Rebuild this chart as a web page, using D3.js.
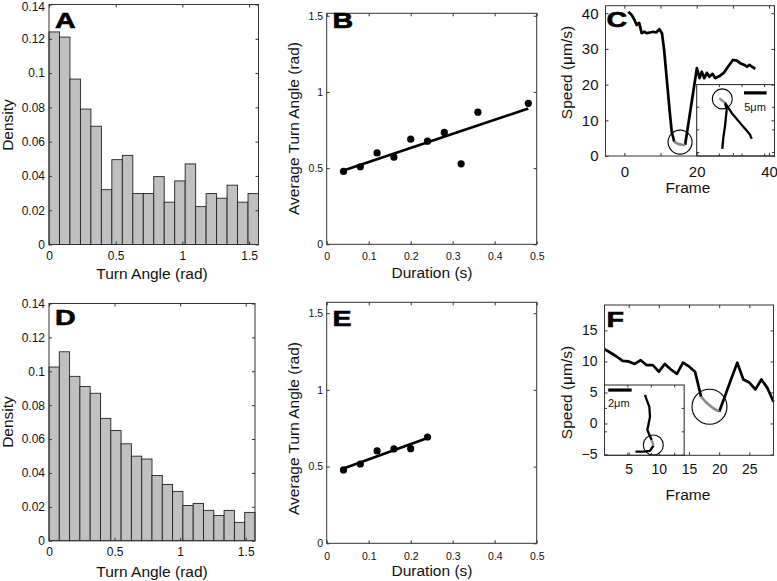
<!DOCTYPE html>
<html>
<head>
<meta charset="utf-8">
<script src="https://cdn.jsdelivr.net/npm/d3@7"></script>
<style>
  body { margin: 0; background: #fff; }
  svg { display: block; }
  text { font-family: "Liberation Sans", Arial, sans-serif; }
</style>
</head>
<body>
<div id="chart"></div>
<script>
// ---- data ----
// histograms: 20 bins over [0, pi/2]
var densityA = [0.124, 0.121, 0.0965, 0.079, 0.069, 0.032, 0.0495, 0.052, 0.0297, 0.0297,
                0.0396, 0.0247, 0.0371, 0.047, 0.0221, 0.0297, 0.027, 0.0346, 0.0247, 0.0297];
var densityD = [0.1025, 0.1115, 0.097, 0.091, 0.087, 0.0722, 0.065, 0.0572, 0.0499, 0.0482,
                0.0385, 0.0332, 0.0291, 0.0208, 0.022, 0.0179, 0.0149, 0.0179, 0.0108, 0.0167];

// average turn angle vs duration
var durationB = [0.04, 0.08, 0.12, 0.16, 0.20, 0.24, 0.28, 0.32, 0.36, 0.48];
var angleB    = [0.478, 0.509, 0.600, 0.572, 0.690, 0.677, 0.734, 0.528, 0.867, 0.925];
var durationE = [0.04, 0.08, 0.12, 0.16, 0.20, 0.24];
var angleE    = [0.478, 0.517, 0.602, 0.615, 0.617, 0.693];

// speed traces
var frameC = [1.1, 2.05, 2.8, 3.4, 4.1, 4.8, 5.5, 6.2, 7.1, 8.0, 8.8, 9.7, 10.4, 11.0, 11.75, 12.5, 13.1,
              13.8, 14.8, 15.8, 16.8,
              20.05, 20.8, 21.4, 22.1, 22.8, 23.5, 24.4, 25.1, 26.3, 27.4, 28.8, 30.0, 31.1, 32.0,
              33.2, 33.9, 34.6, 35.3, 36.2];
var speedC = [40.4, 39.5, 38.1, 36.7, 37.3, 34.4, 34.8, 34.4, 34.6, 34.8, 34.6, 35.5, 34.4, 29.7, 21.3, 12.9, 6.8,
              4.0, 3.4, 3.2, 3.1,
              24.6, 21.8, 23.6, 21.8, 23.3, 22.2, 23.0, 21.8, 22.4, 23.2, 25.2, 26.9, 26.7, 26.0,
              25.5, 25.0, 25.5, 25.0, 24.4];
var slowC = [17, 20];          // first/last index of the grey (slow) stretch
var circleC = [15.4, 3.9];     // frame, speed

var frameF = d3.range(1, 30);
var speedF = [12.0, 11.4, 10.8, 10.1, 10.0, 9.6, 10.2, 9.4, 9.4, 8.35, 9.6, 8.7, 8.0, 9.8, 9.2,
              8.35, 4.3, 3.25, 2.45, 1.9, 4.5, 7.2, 9.8, 7.1, 6.6, 5.5, 7.1, 5.7, 3.5];
var slowF = [16, 19];
var circleF = [18.4, 2.7];

// trajectories in the insets (um, from inset top-left, y down)
var trajCx = [5.65, 5.87, 6.25, 6.62, 6.25, 5.14, 6.25, 7.73, 9.56, 11.77, 12.14];
var trajCy = [14.19, 11.77, 9.21, 5.52, 3.97, 3.16, 4.04, 6.25, 8.45, 11.04, 11.99];
var trajCslow = [4, 6];
var trajCcircle = [5.65, 3.16];
var trajFx = [3.46, 3.61, 3.83, 3.89, 3.66, 4.03, 4.19, 3.89, 3.32, 2.65];
var trajFy = [0.85, 1.28, 1.85, 2.71, 3.85, 4.70, 5.17, 5.62, 5.70, 5.70];
var trajFslow = [5, 6];
var trajFcircle = [4.17, 5.13];

// ticks
var angleTicks = [0, 0.5, 1, 1.5];
var densityTicks = [0, 0.02, 0.04, 0.06, 0.08, 0.1, 0.12, 0.14];
var durationTicks = [0, 0.1, 0.2, 0.3, 0.4, 0.5];
var avgTicks = [0, 0.5, 1, 1.5];
var frameTicksC = [0, 10, 20, 30, 40];
var speedTicksC = [0, 10, 20, 30, 40];
var frameTicksF = [5, 10, 15, 20, 25];
var speedTicksF = [-5, 0, 5, 10, 15];

// ---- drawing ----
var FONT = '"Liberation Sans", Arial, sans-serif';
var svg = d3.select('#chart').append('svg')
    .attr('width', 777)
    .attr('height', 581);

var fmt = function (d) { return String(+d.toFixed(3)).replace('-', '\u2212'); };

function axes(x, y, o) {
    var xr = x.range(), yr = y.range();
    var g = svg.append('g').attr('font-family', FONT).attr('font-size', o.fs);
    g.append('g').attr('transform', 'translate(0,' + yr[0] + ')')
        .call(d3.axisBottom(x).tickValues(o.xt).tickSize(-3).tickSizeOuter(0)
            .tickPadding(o.xpad).tickFormat(o.xfmt || fmt));
    g.append('g').attr('transform', 'translate(0,' + yr[1] + ')')
        .call(d3.axisTop(x).tickValues(o.xt).tickSize(-3).tickSizeOuter(0).tickFormat(''));
    var left = g.append('g').attr('transform', 'translate(' + xr[0] + ',0)')
        .call(d3.axisLeft(y).tickValues(o.yt).tickSize(-3).tickSizeOuter(0)
            .tickPadding(o.ypad).tickFormat(fmt));
    g.append('g').attr('transform', 'translate(' + xr[1] + ',0)')
        .call(d3.axisRight(y).tickValues(o.yt).tickSize(-3).tickSizeOuter(0).tickFormat(''));
    g.selectAll('.domain').remove();
    g.selectAll('.tick line').attr('stroke', '#333');
    g.selectAll('.tick text').attr('fill', '#111').attr('font-size', o.fs);
    g.selectAll('g').attr('font-size', null).attr('font-family', null);
    // keep a label that sits right at the page top inside the picture
    left.selectAll('.tick text').filter(function (d) { return y(d) < 7; }).attr('y', 2);
    g.append('rect')
        .attr('x', xr[0]).attr('y', yr[1])
        .attr('width', xr[1] - xr[0]).attr('height', yr[0] - yr[1])
        .attr('fill', 'none').attr('stroke', '#333');
}

function label(txt, x, y, rot) {
    svg.append('text')
        .attr('transform', 'translate(' + x + ',' + y + ')' + (rot ? ' rotate(-90)' : ''))
        .attr('text-anchor', 'middle')
        .attr('font-size', 15.5)
        .attr('fill', '#111')
        .text(txt);
}

// panel letters are set in a heavy, slightly wide face
function letter(txt, x, y) {
    svg.append('text')
        .attr('transform', 'translate(' + x + ',' + y + ') scale(1.3,1)')
        .attr('font-size', 22).attr('font-weight', 'bold').attr('fill', '#000')
        .attr('stroke', '#000').attr('stroke-width', 0.6)
        .text(txt);
}

function histogram(dens, x, y) {
    var bw = Math.PI / 2 / dens.length;
    svg.append('g').selectAll('rect')
        .data(dens)
        .enter()
        .append('rect')
        .attr('x', function (d, i) { return x(i * bw); })
        .attr('width', function (d, i) { return x((i + 1) * bw) - x(i * bw); })
        .attr('y', function (d) { return y(d); })
        .attr('height', function (d) { return y(0) - y(d); })
        .attr('fill', '#c0c0c0')
        .attr('stroke', '#222')
        .attr('stroke-width', 0.9);
}

function scatterFit(xs, ys, x, y) {
    var mx = d3.mean(xs), my = d3.mean(ys);
    var sxy = d3.sum(xs, function (v, i) { return (v - mx) * (ys[i] - my); });
    var sxx = d3.sum(xs, function (v) { return (v - mx) * (v - mx); });
    var b = sxy / sxx, a = my - b * mx;
    var ext = d3.extent(xs);
    svg.append('line')
        .attr('x1', x(ext[0])).attr('y1', y(a + b * ext[0]))
        .attr('x2', x(ext[1])).attr('y2', y(a + b * ext[1]))
        .attr('stroke', '#000').attr('stroke-width', 2.6);
    svg.append('g').selectAll('circle')
        .data(xs)
        .enter()
        .append('circle')
        .attr('cx', function (d) { return x(d); })
        .attr('cy', function (d, i) { return y(ys[i]); })
        .attr('r', 3.6)
        .attr('fill', '#000');
}

function trace(fr, sp, slow, x, y, w) {
    var pts = fr.map(function (f, i) { return [x(f), y(sp[i])]; });
    var line = d3.line();
    var g = svg.append('g').attr('fill', 'none').attr('stroke-width', w)
        .attr('stroke-linejoin', 'round');
    g.append('path').attr('d', line(pts.slice(0, slow[0] + 1))).attr('stroke', '#000');
    g.append('path').attr('d', line(pts.slice(slow[1]))).attr('stroke', '#000');
    g.append('path').attr('d', line(pts.slice(slow[0], slow[1] + 1))).attr('stroke', '#8a8a8a');
}

function ring(cx, cy, r) {
    svg.append('circle').attr('cx', cx).attr('cy', cy).attr('r', r)
        .attr('fill', 'none').attr('stroke', '#000').attr('stroke-width', 1.1);
}

function inset(box, pxPerUm, tickUm, tx, ty, slow, circ, bar, barLabel, labelPos) {
    var xs = d3.scaleLinear().domain([0, (box[2] - box[0]) / pxPerUm]).range([box[0], box[2]]);
    var ys = d3.scaleLinear().domain([0, (box[3] - box[1]) / pxPerUm]).range([box[1], box[3]]);
    svg.append('rect')
        .attr('x', box[0]).attr('y', box[1])
        .attr('width', box[2] - box[0]).attr('height', box[3] - box[1])
        .attr('fill', '#fff').attr('stroke', '#222');
    var g = svg.append('g').attr('stroke', '#333');
    d3.range(tickUm, xs.domain()[1], tickUm).forEach(function (v) {
        g.append('line').attr('x1', xs(v)).attr('x2', xs(v)).attr('y1', box[3]).attr('y2', box[3] - 2.5);
        g.append('line').attr('x1', xs(v)).attr('x2', xs(v)).attr('y1', box[1]).attr('y2', box[1] + 2.5);
    });
    d3.range(tickUm, ys.domain()[1], tickUm).forEach(function (v) {
        g.append('line').attr('y1', ys(v)).attr('y2', ys(v)).attr('x1', box[0]).attr('x2', box[0] + 2.5);
        g.append('line').attr('y1', ys(v)).attr('y2', ys(v)).attr('x1', box[2]).attr('x2', box[2] - 2.5);
    });
    trace(tx, ty, slow, xs, ys, 2.3);
    ring(xs(circ[0]), ys(circ[1]), 10);
    svg.append('line')
        .attr('x1', xs(bar[0])).attr('x2', xs(bar[0] + bar[2]))
        .attr('y1', ys(bar[1])).attr('y2', ys(bar[1]))
        .attr('stroke', '#000').attr('stroke-width', 3.2);
    svg.append('text')
        .attr('x', labelPos[0]).attr('y', labelPos[1])
        .attr('text-anchor', labelPos[2])
        .attr('font-size', 11).attr('fill', '#111')
        .text(barLabel);
}

// ---- A ----
var xA = d3.scaleLinear().domain([0, Math.PI / 2]).range([49, 258.5]);
var yA = d3.scaleLinear().domain([0, 0.14]).range([244.5, 4.5]);
histogram(densityA, xA, yA);
axes(xA, yA, { xt: angleTicks, yt: densityTicks, fs: 12, xpad: 6.5, ypad: 4 });
label('Turn Angle (rad)', 152, 278.5);
label('Density', 12.5, 125, true);
letter('A', 55, 28);

// ---- D ----
var xD = d3.scaleLinear().domain([0, Math.PI / 2]).range([49, 255]);
var yD = d3.scaleLinear().domain([0, 0.14]).range([540.7, 303.5]);
histogram(densityD, xD, yD);
axes(xD, yD, { xt: angleTicks, yt: densityTicks, fs: 12, xpad: 6.5, ypad: 4 });
label('Turn Angle (rad)', 152, 577);
label('Density', 12.5, 422, true);
letter('D', 55, 325);

// ---- B ----
var xB = d3.scaleLinear().domain([0, 0.5]).range([326.7, 536.7]);
var yB = d3.scaleLinear().domain([0, 1.516]).range([244.3, 13.3]);
axes(xB, yB, { xt: durationTicks, yt: avgTicks, fs: 10.5, xpad: 8.5, ypad: 3.5 });
scatterFit(durationB, angleB, xB, yB);
label('Duration (s)', 432, 278);
label('Average Turn Angle (rad)', 298.5, 128.5, true);
letter('B', 332.5, 27.5);

// ---- E ----
var xE = d3.scaleLinear().domain([0, 0.5]).range([326.7, 536.7]);
var yE = d3.scaleLinear().domain([0, Math.PI / 2]).range([543.3, 302.3]);
axes(xE, yE, { xt: durationTicks, yt: avgTicks, fs: 10.5, xpad: 9, ypad: 3.5 });
scatterFit(durationE, angleE, xE, yE);
label('Duration (s)', 432, 576);
label('Average Turn Angle (rad)', 298.5, 428.5, true);
letter('E', 332.5, 326);

// ---- C ----
var xC = d3.scaleLinear().domain([-5.2, 41.5]).range([605.5, 774.5]);
var yC = d3.scaleLinear().domain([0, 42.1]).range([156, 5.7]);
trace(frameC, speedC, slowC, xC, yC, 2.7);
ring(xC(circleC[0]), yC(circleC[1]), 12);
inset([xC(20), yC(20), xC.range()[1], yC.range()[0]], 4.53, 5,
      trajCx, trajCy, trajCslow, trajCcircle, [10.44, 1.83, 5], '5\u03bcm', [755, 111, 'middle']);
axes(xC, yC, { xt: frameTicksC, yt: speedTicksC, fs: 15, xpad: 10,
               ypad: 7, xfmt: function (d) { return d % 20 === 0 ? fmt(d) : ''; } });
label('Frame', 688, 193);
label('Speed (\u03bcm/s)', 572, 72.5, true);
letter('C', 606.5, 27);

// ---- F ----
var xF = d3.scaleLinear().domain([1, 29]).range([604.5, 773.5]);
var yF = d3.scaleLinear().domain([-5.13, 19.1]).range([455.3, 305]);
trace(frameF, speedF, slowF, xF, yF, 2.7);
ring(xF(circleF[0]), yF(circleF[1]), 17.5);
inset([xF.range()[0], yF(6.2), xF(14.2), yF.range()[0]], 11.7, 2,
      trajFx, trajFy, trajFslow, trajFcircle, [0.32, 0.43, 2], '2\u03bcm', [608, 407, 'start']);
axes(xF, yF, { xt: frameTicksF, yt: speedTicksF, fs: 14, xpad: 9, ypad: 7 });
label('Frame', 688, 499.5);
label('Speed (\u03bcm/s)', 572, 392.5, true);
letter('F', 606.5, 327);
</script>
</body>
</html>
